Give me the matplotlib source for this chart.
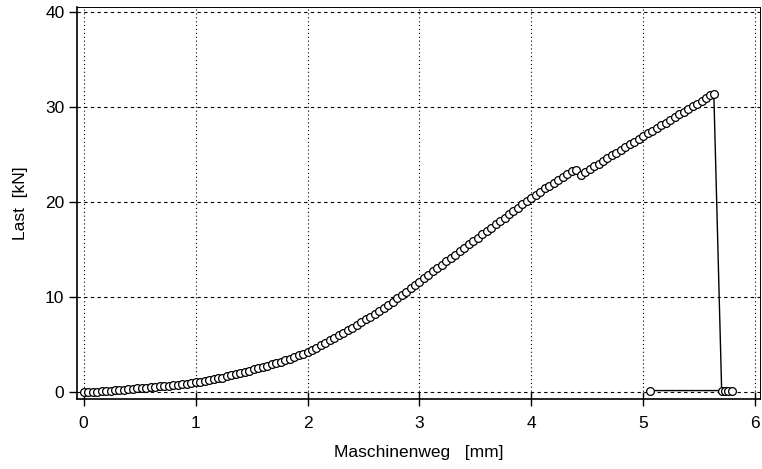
import matplotlib.pyplot as plt

# Load-displacement data
weg = [0.00, 0.04, 0.08, 0.12, 0.16, 0.20, 0.24, 0.28, 0.32, 0.36,
       0.40, 0.44, 0.48, 0.52, 0.56, 0.60, 0.64, 0.68, 0.72, 0.76,
       0.80, 0.84, 0.88, 0.92, 0.96, 1.00, 1.04, 1.08, 1.12, 1.16,
       1.20, 1.24, 1.28, 1.32, 1.36, 1.40, 1.44, 1.48, 1.52, 1.56,
       1.60, 1.64, 1.68, 1.72, 1.76, 1.80, 1.84, 1.88, 1.92, 1.96,
       2.00, 2.04, 2.08, 2.12, 2.16, 2.20, 2.24, 2.28, 2.32, 2.36,
       2.40, 2.44, 2.48, 2.52, 2.56, 2.60, 2.64, 2.68, 2.72, 2.76,
       2.80, 2.84, 2.88, 2.92, 2.96, 3.00, 3.04, 3.08, 3.12, 3.16,
       3.20, 3.24, 3.28, 3.32, 3.36, 3.40, 3.44, 3.48, 3.52, 3.56,
       3.60, 3.64, 3.68, 3.72, 3.76, 3.80, 3.84, 3.88, 3.92, 3.96,
       4.00, 4.04, 4.08, 4.12, 4.16, 4.20, 4.24, 4.28, 4.32, 4.36,
       4.40, 4.44, 4.48, 4.52, 4.56, 4.60, 4.64, 4.68, 4.72, 4.76,
       4.80, 4.84, 4.88, 4.92, 4.96, 5.00, 5.04, 5.08, 5.12, 5.16,
       5.20, 5.24, 5.28, 5.32, 5.36, 5.40, 5.44, 5.48, 5.52, 5.56,
       5.60, 5.63, 5.70, 5.73, 5.76, 5.79, 5.06]
last = [0.00, 0.03, 0.06, 0.09, 0.12, 0.16, 0.19, 0.23, 0.27, 0.31,
        0.35, 0.39, 0.43, 0.47, 0.51, 0.55, 0.59, 0.63, 0.68, 0.72,
        0.77, 0.82, 0.87, 0.93, 0.99, 1.05, 1.12, 1.20, 1.28, 1.37,
        1.47, 1.57, 1.68, 1.79, 1.91, 2.03, 2.16, 2.29, 2.42, 2.55,
        2.68, 2.82, 2.96, 3.10, 3.25, 3.40, 3.56, 3.72, 3.89, 4.06,
        4.24, 4.48, 4.73, 4.98, 5.23, 5.49, 5.75, 6.01, 6.28, 6.55,
        6.83, 7.11, 7.40, 7.69, 7.99, 8.29, 8.60, 8.91, 9.23, 9.56,
        9.89, 10.24, 10.60, 10.95, 11.31, 11.66, 12.02, 12.37, 12.73, 13.08,
        13.44, 13.79, 14.15, 14.50, 14.86, 15.21, 15.57, 15.92, 16.28, 16.63,
        16.99, 17.34, 17.70, 18.05, 18.40, 18.75, 19.10, 19.45, 19.80, 20.15,
        20.49, 20.82, 21.14, 21.46, 21.77, 22.08, 22.39, 22.70, 23.00, 23.30,
        23.45, 22.85, 23.20, 23.50, 23.79, 24.08, 24.37, 24.66, 24.95, 25.24,
        25.53, 25.82, 26.11, 26.40, 26.69, 26.98, 27.26, 27.55, 27.83, 28.12,
        28.40, 28.69, 28.97, 29.26, 29.54, 29.83, 30.11, 30.40, 30.68, 30.97,
        31.25, 31.45, 0.20, 0.20, 0.20, 0.20, 0.20]

x_ticks = [0, 1, 2, 3, 4, 5, 6]
y_ticks = [0, 10, 20, 30, 40]

plt.rcParams['font.family'] = ['Liberation Sans', 'DejaVu Sans']

fig = plt.figure(figsize=(7.62, 4.69), dpi=100)
ax = fig.add_axes([0.101, 0.149, 0.896, 0.837])

ax.plot(weg, last, color='black', linewidth=1.0, marker='o', markersize=5.6,
        markerfacecolor='white', markeredgecolor='black', markeredgewidth=0.9)

ax.set_xlim(-0.06, 6.04)
ax.set_ylim(-0.7, 40.6)
ax.set_xticks(x_ticks)
ax.set_yticks(y_ticks)

# grid: dashed horizontal, dotted vertical
for yv in y_ticks:
    ax.axhline(yv, color='black', linewidth=0.8, linestyle=(0, (3, 3)), zorder=0)
for xv in x_ticks:
    ax.axvline(xv, color='black', linewidth=0.8, linestyle=(0, (1, 2.5)), zorder=0)

ax.tick_params(axis='x', direction='inout', length=10, width=1, labelsize=12.5, pad=7)
ax.tick_params(axis='y', direction='out', length=6, width=1, labelsize=12.5, pad=3)

for side in ['left', 'bottom']:
    ax.spines[side].set_linewidth(1.2)
for side in ['top', 'right']:
    ax.spines[side].set_linewidth(0.7)

ax.set_xlabel('Maschinenweg   [mm]', fontsize=12.5, labelpad=10)
ax.set_ylabel('Last  [kN]', fontsize=12.5, labelpad=12)

fig.savefig('out.png', dpi=100)
